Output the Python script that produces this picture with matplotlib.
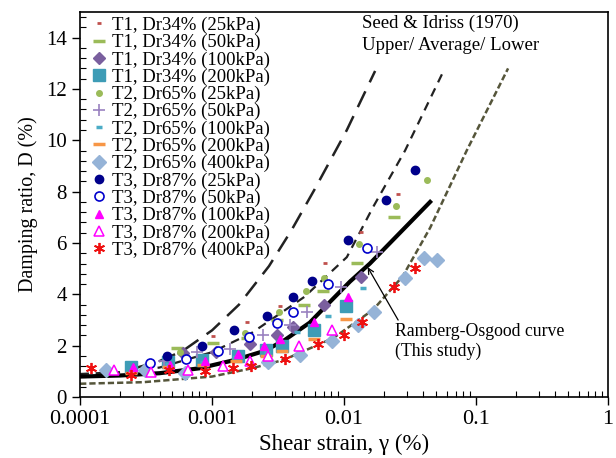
import matplotlib
matplotlib.use("Agg")
import matplotlib.pyplot as plt
from matplotlib.ticker import FixedLocator, MultipleLocator, LogLocator, NullFormatter

plt.rcParams['font.family'] = ['Liberation Serif', 'DejaVu Serif']

# measured points (shear strain %, damping %)
t1_25_x = [0.00101, 0.00183, 0.00325, 0.00722, 0.01356, 0.0257]
t1_25_y = [2.37, 2.91, 3.56, 5.21, 6.44, 7.89]
t1_50_x = [0.00054, 0.00102, 0.00184, 0.0031, 0.00497, 0.0069, 0.0126, 0.0238]
t1_50_y = [1.92, 2.10, 2.30, 3.00, 3.60, 4.15, 5.23, 7.02]
t1_100_x = [0.00060, 0.00108, 0.00193, 0.0031, 0.00414, 0.0071, 0.0134]
t1_100_y = [1.72, 1.75, 2.05, 2.41, 2.74, 3.58, 4.69]
t1_200_x = [0.000245, 0.000465, 0.000836, 0.00156, 0.00257, 0.00339, 0.00592, 0.01035]
t1_200_y = [1.16, 1.35, 1.43, 1.61, 1.85, 2.00, 2.60, 3.55]

t2_25_x = [0.000572, 0.00177, 0.00321, 0.00516, 0.00703, 0.0129, 0.0248, 0.0426]
t2_25_y = [1.76, 2.50, 3.30, 4.14, 4.64, 5.98, 7.45, 8.44]
t2_50_x = [0.000434, 0.000764, 0.00137, 0.00243, 0.00392, 0.00527, 0.00953, 0.0178]
t2_50_y = [1.39, 1.74, 1.87, 2.41, 2.82, 3.30, 4.29, 5.64]
t2_100_x = [0.00046, 0.00085, 0.0015, 0.0026, 0.0044, 0.0076, 0.0140]
t2_100_y = [1.30, 1.35, 1.55, 1.75, 2.52, 3.17, 4.25]
t2_200_x = [0.000245, 0.000465, 0.00085, 0.00152, 0.00257, 0.0034, 0.00592, 0.01035]
t2_200_y = [0.94, 1.16, 1.26, 1.39, 1.59, 1.78, 2.28, 3.04]
t2_400_x = [0.000157, 0.000312, 0.000622, 0.00264, 0.00465, 0.00807, 0.01265, 0.0168, 0.0289, 0.0403, 0.0506]
t2_400_y = [1.04, 1.07, 0.94, 1.37, 1.65, 2.20, 2.82, 3.32, 4.62, 5.42, 5.34]

t3_25_x = [0.000459, 0.000836, 0.00147, 0.00259, 0.00414, 0.00571, 0.01064, 0.0207, 0.0346]
t3_25_y = [1.61, 1.98, 2.60, 3.15, 3.88, 4.53, 6.11, 7.66, 8.83]
t3_50_x = [0.000341, 0.00063, 0.00111, 0.00192, 0.00308, 0.00414, 0.00758, 0.0148]
t3_50_y = [1.33, 1.48, 1.81, 2.34, 2.90, 3.33, 4.40, 5.81]
t3_100_x = [0.000251, 0.000481, 0.000877, 0.00156, 0.00247, 0.0033, 0.00592, 0.01064]
t3_100_y = [1.16, 1.26, 1.39, 1.69, 1.98, 2.28, 2.93, 3.90]
t3_200_x = [0.00018, 0.000346, 0.000657, 0.0012, 0.00194, 0.00264, 0.00459, 0.00808]
t3_200_y = [1.07, 0.96, 1.07, 1.20, 1.39, 1.59, 1.98, 2.63]
t3_400_x = [0.000121, 0.000242, 0.000472, 0.00088, 0.00144, 0.00198, 0.0036, 0.00634, 0.0100, 0.01364, 0.0240, 0.0346]
t3_400_y = [1.13, 0.87, 1.07, 1.00, 1.13, 1.22, 1.50, 2.08, 2.43, 2.93, 4.28, 5.03]

# Seed & Idriss (1970) bounds
upper_x = [0.00025, 0.0004, 0.0006, 0.001, 0.0016, 0.0027, 0.004, 0.006, 0.0105, 0.0172]
upper_y = [1.10, 1.40, 1.80, 2.60, 3.60, 5.10, 6.50, 8.10, 10.40, 12.70]
avg_x = [0.0001, 0.0002, 0.0004, 0.001, 0.002, 0.005, 0.0105, 0.0166, 0.029, 0.058]
avg_y = [0.90, 0.97, 1.15, 1.75, 2.50, 3.90, 5.45, 7.40, 9.60, 12.80]
lower_x = [0.0001, 0.0003, 0.001, 0.002, 0.0035, 0.0083, 0.0166, 0.0278, 0.045, 0.085, 0.175]
lower_y = [0.52, 0.58, 0.80, 1.12, 1.45, 2.30, 3.40, 4.70, 6.60, 9.60, 12.80]

# Ramberg-Osgood curve
ro_x = [0.0001, 0.0002, 0.0004, 0.0008, 0.0015, 0.0025, 0.0035, 0.0055, 0.0078, 0.0111, 0.0157, 0.0449]
ro_y = [0.80, 0.84, 0.93, 1.12, 1.45, 1.80, 2.20, 2.90, 3.70, 4.50, 5.20, 7.60]

fig = plt.figure(figsize=(6.16, 4.58), dpi=100)
ax = fig.add_axes([0.130, 0.133, 0.857, 0.841])

ax.plot(upper_x, upper_y, color='#222222', lw=1.8, ls=(0, (7, 4)))
ax.plot(avg_x, avg_y, color='#222222', lw=1.6, ls=(0, (4, 3)))
ax.plot(lower_x, lower_y, color='#55553a', lw=1.8, ls=(0, (2.5, 1.2)))
ax.plot(ro_x, ro_y, color='black', lw=3)

ax.plot(t1_25_x, t1_25_y, ls='none', marker='_', ms=3, mew=2, color='#c0504d', label='T1, Dr34% (25kPa)')
ax.plot(t1_50_x, t1_50_y, ls='none', marker='_', ms=9, mew=2.5, color='#9bbb59', label='T1, Dr34% (50kPa)')
ax.plot(t1_100_x, t1_100_y, ls='none', marker='D', ms=6, color='#7a5f9e', label='T1, Dr34% (100kPa)')
ax.plot(t1_200_x, t1_200_y, ls='none', marker='s', ms=8, color='#3e9cb6', label='T1, Dr34% (200kPa)')
ax.plot(t2_25_x, t2_25_y, ls='none', marker='o', ms=4, color='#9bbb59', label='T2, Dr65% (25kPa)')
ax.plot(t2_50_x, t2_50_y, ls='none', marker='+', ms=9, mew=1.2, color='#9a82c0', label='T2, Dr65% (50kPa)')
ax.plot(t2_100_x, t2_100_y, ls='none', marker='_', ms=5, mew=2.5, color='#4bacc6', label='T2, Dr65% (100kPa)')
ax.plot(t2_200_x, t2_200_y, ls='none', marker='_', ms=8, mew=2.5, color='#f79646', label='T2, Dr65% (200kPa)')
ax.plot(t2_400_x, t2_400_y, ls='none', marker='D', ms=7, color='#95b3d7', label='T2, Dr65% (400kPa)')
ax.plot(t3_25_x, t3_25_y, ls='none', marker='o', ms=6, color='#00008b', label='T3, Dr87% (25kPa)')
ax.plot(t3_50_x, t3_50_y, ls='none', marker='o', ms=6.5, mfc='white', mec='#0000cc', mew=1.2, label='T3, Dr87% (50kPa)')
ax.plot(t3_100_x, t3_100_y, ls='none', marker='^', ms=6, color='#ff00ff', label='T3, Dr87% (100kPa)')
ax.plot(t3_200_x, t3_200_y, ls='none', marker='^', ms=6.5, mfc='white', mec='#ff00ff', mew=1.1, label='T3, Dr87% (200kPa)')
ax.plot(t3_400_x, t3_400_y, ls='none', marker=(6, 2, 0), ms=8, mew=1.3, color='#ee1111', label='T3, Dr87% (400kPa)')

ax.set_xscale('log')
ax.set_xlim(0.0001, 1)
ax.set_ylim(0, 15)
ax.xaxis.set_major_locator(FixedLocator([0.0001, 0.001, 0.01, 0.1, 1]))
ax.set_xticklabels(['0.0001', '0.001', '0.01', '0.1', '1'])
ax.xaxis.set_minor_locator(LogLocator(base=10, subs=range(2, 10)))
ax.xaxis.set_minor_formatter(NullFormatter())
ax.yaxis.set_major_locator(MultipleLocator(2))
ax.yaxis.set_minor_locator(MultipleLocator(0.4))
ax.yaxis.set_major_formatter(plt.FormatStrFormatter('%d'))
ax.tick_params(which='major', direction='out', length=6, width=1)
ax.tick_params(axis='x', which='major', labelsize=16)
ax.tick_params(axis='y', which='major', labelsize=15)
ax.tick_params(which='minor', direction='in', length=4, width=0.8)
for s in ax.spines.values():
    s.set_linewidth(1.2)

ax.set_xlabel('Shear strain, γ (%)', fontsize=16.5, labelpad=3)
ax.set_ylabel('Damping ratio, D (%)', fontsize=14.5, labelpad=6)

ax.text(0.0137, 14.55, 'Seed & Idriss (1970)', fontsize=13.5, va='center')
ax.text(0.0137, 13.7, 'Upper/ Average/ Lower', fontsize=13.5, va='center')

ax.text(0.0243, 2.16, 'Ramberg-Osgood curve\n(This study)', fontsize=12.8, ha='left', va='center',
        linespacing=1.15)
ax.annotate('', xy=(0.0151, 5.06), xytext=(0.0257, 3.0),
            arrowprops=dict(arrowstyle='->', color='black', lw=0.9, shrinkA=0, shrinkB=0))

ax.legend(loc='upper left', bbox_to_anchor=(0.012, 1.0), frameon=False, fontsize=13.5,
          handlelength=0.8, handletextpad=0.3, labelspacing=0.0, borderpad=0.25,
          borderaxespad=0.0, numpoints=1)

fig.savefig('out.png', dpi=100)
